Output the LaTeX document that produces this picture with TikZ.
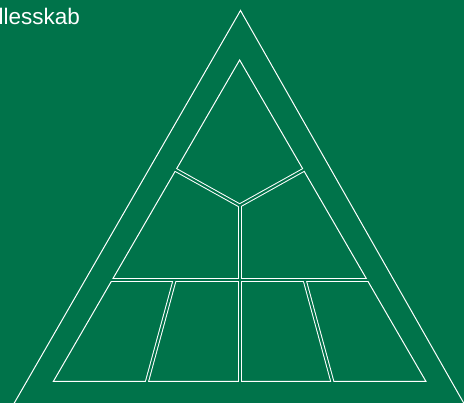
\documentclass[tikz,border=0pt]{standalone}
\usepackage{fontspec}
\setmainfont{Liberation Sans}
\usetikzlibrary{calc}
\definecolor{bg}{HTML}{00734A}
\begin{document}
\begin{tikzpicture}[x=1pt,y=-1pt,
  edge/.style={white,line width=1pt,line join=miter},
  divw/.style={white,line width=4pt,line join=miter},
  divg/.style={bg,line width=2pt,line join=miter}]
\fill[bg] (0,0) rectangle (464,403);
\useasboundingbox (0,0) rectangle (464,403);
% label
\node[anchor=base west,inner sep=0pt,text=white,font=\fontsize{22.5}{25}\selectfont] (lbl) at (-1.6,24.5) {llesskab};
% outer triangle
\coordinate (oA) at (240.5,10.5);
\coordinate (oL) at (14,403.5);
\coordinate (oR) at (464,403.5);
\draw[edge] (oL) -- (oA) -- (oR);
% inner triangle
\coordinate (A) at (239.65,60);
\coordinate (BL) at (53.3,381.5);
\coordinate (BR) at (426,381.5);
% divider points
\coordinate (PL) at (175.85,170);
\coordinate (PR) at (303.45,170);
\coordinate (C) at (239.65,205.5);
\coordinate (HL) at (111.7,280.5);
\coordinate (HR) at (367.6,280.5);
\coordinate (T1) at (174.5,280.5);
\coordinate (B1) at (147,381.5);
\coordinate (T2) at (304.8,280.5);
\coordinate (B2) at (332.3,381.5);
\coordinate (VB) at (239.65,381.5);
\def\dividers#1{%
  \draw[#1] ($(C)!1.06!(PL)$) -- (C) -- ($(C)!1.06!(PR)$);
  \draw[#1] (C) -- ($(C)!1.03!(VB)$);
  \draw[#1] ($(HR)!1.03!(HL)$) -- ($(HL)!1.03!(HR)$);
  \draw[#1] (T1) -- ($(T1)!1.04!(B1)$);
  \draw[#1] (T2) -- ($(T2)!1.04!(B2)$);
}
\begin{scope}
  \clip (A) -- (BL) -- (BR) -- cycle;
  \dividers{divw}
\end{scope}
\draw[edge] (A) -- (BL) -- (BR) -- cycle;
\begin{scope}
  \clip (239.65,52) -- (45,386) -- (434,386) -- cycle;
  \dividers{divg}
\end{scope}
\end{tikzpicture}
\end{document}
